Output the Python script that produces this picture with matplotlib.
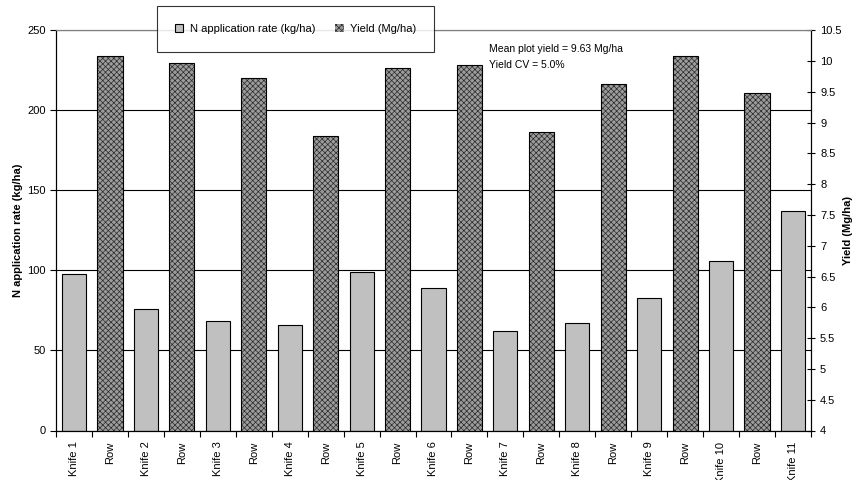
import matplotlib
matplotlib.use("Agg")
import matplotlib.pyplot as plt
from matplotlib.ticker import FuncFormatter, MultipleLocator, FixedLocator
import numpy as np

plt.rcParams['font.family'] = ['Liberation Sans', 'DejaVu Sans']
plt.rcParams['hatch.linewidth'] = 0.5

# Data
categories = ['Knife 1', 'Row', 'Knife 2', 'Row', 'Knife 3', 'Row', 'Knife 4', 'Row',
              'Knife 5', 'Row', 'Knife 6', 'Row', 'Knife 7', 'Row', 'Knife 8', 'Row',
              'Knife 9', 'Row', 'Knife 10', 'Row', 'Knife 11']
n_rate = [98.0, 75.9, 68.6, 66.1, 99.1, 89.3, 62.2, 67.4, 82.8, 106.1, 137.0]
yield_row = [10.08, 9.97, 9.73, 8.79, 9.88, 9.94, 8.85, 9.62, 10.09, 9.48]

x = np.arange(len(categories))
knife_x = x[0::2]
row_x = x[1::2]

fig = plt.figure(figsize=(8.59, 4.8), dpi=100)
ax = fig.add_axes([56 / 859, 49.5 / 480, 755 / 859, 400.2 / 480])
ax2 = ax.twinx()

ax.set_axisbelow(True)
ax.yaxis.grid(True, color='black', linewidth=0.8)

b1 = ax.bar(knife_x, n_rate, width=0.67, color='#c0c0c0', edgecolor='black',
            linewidth=0.8, label='N application rate (kg/ha)')
# hatched fill (dark hatch) plus a separate black outline
b2 = ax2.bar(row_x, yield_row, width=0.70, color='#9c9c9c', edgecolor='#2a2a2a',
             hatch='xxxxxx', linewidth=0, label='Yield (Mg/ha)')
ax2.bar(row_x, yield_row, width=0.70, fill=False, edgecolor='black', linewidth=0.8)

ax.set_xlim(-0.5, len(categories) - 0.5)
ax.set_ylim(0, 250)
ax2.set_ylim(4, 10.5)

ax.set_xticks(x)
ax.set_xticklabels(categories, rotation=90, fontsize=8)
ax.xaxis.set_minor_locator(FixedLocator(np.arange(-0.5, len(categories), 1.0)))
ax.tick_params(axis='x', which='major', length=0, pad=8)
ax.tick_params(axis='x', which='minor', length=4, direction='out', width=0.8)

ax.yaxis.set_major_locator(MultipleLocator(50))
ax.tick_params(axis='y', labelsize=8, length=4, width=0.8, direction='out')
ax2.yaxis.set_major_locator(MultipleLocator(0.5))
ax2.yaxis.set_major_formatter(FuncFormatter(lambda v, p: '%g' % v))
ax2.tick_params(axis='y', labelsize=8, length=6, width=0.8, direction='inout')

for a in (ax, ax2):
    for s in a.spines.values():
        s.set_linewidth(0.8)
        s.set_color('black')
    a.spines['top'].set_color('#808080')

ax.set_ylabel('N application rate (kg/ha)', fontsize=8, fontweight='bold', va='center')
ax.yaxis.set_label_coords(-0.0503, 0.5)
ax2.set_ylabel('Yield (Mg/ha)', fontsize=8, fontweight='bold', rotation=90, va='center')
ax2.yaxis.set_label_coords(1.049, 0.5)

ax.text(0.5735, 0.953, 'Mean plot yield = 9.63 Mg/ha', transform=ax.transAxes,
        fontsize=7.5, va='center', ha='left')
ax.text(0.5735, 0.913, 'Yield CV = 5.0%', transform=ax.transAxes,
        fontsize=7.5, va='center', ha='left')

leg = fig.legend(handles=[b1, b2], loc='upper left', bbox_to_anchor=(157 / 859, 1 - 6 / 480),
                 ncol=2, fontsize=8, frameon=True, fancybox=False, edgecolor='black',
                 borderpad=1.6, handlelength=0.75, handleheight=0.75, handletextpad=0.6,
                 columnspacing=1.8, borderaxespad=0)
leg.get_frame().set_linewidth(0.8)

fig.savefig('out.png', dpi=100)
